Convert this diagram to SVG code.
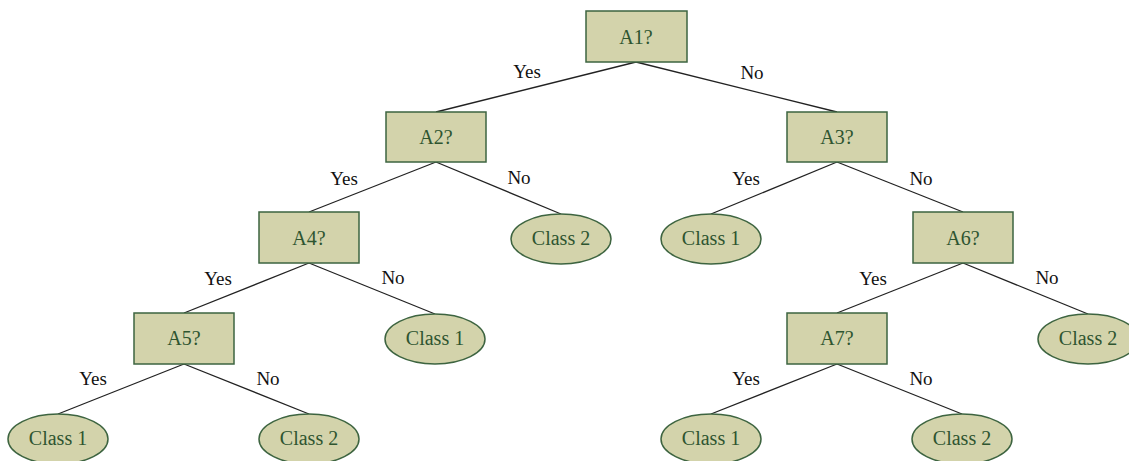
<svg xmlns="http://www.w3.org/2000/svg" width="1129" height="461" viewBox="0 0 1129 461">
  <style>
    .box { fill: #d3d3ab; stroke: #3d6440; stroke-width: 1.5; }
    .leaf { fill: #d3d3ab; stroke: #3d6440; stroke-width: 1.5; }
    .nt { font-family: 'Liberation Serif', 'DejaVu Serif', serif; font-size: 20px; fill: #2e5530; text-anchor: middle; }
    .edge { stroke: #222; stroke-width: 1.3; fill: none; }
    .lbl { font-family: 'Liberation Serif', 'DejaVu Serif', serif; font-size: 19px; fill: #111; text-anchor: middle; }
  </style>
  <rect width="1129" height="461" fill="#fff"/>

  <g id="connectors">
    <line class="edge" x1="636" y1="62" x2="436" y2="112"/>
    <line class="edge" x1="636" y1="62" x2="837" y2="112"/>
    <line class="edge" x1="436" y1="162" x2="309" y2="212"/>
    <line class="edge" x1="436" y1="162" x2="561" y2="214"/>
    <line class="edge" x1="837" y1="162" x2="711" y2="214"/>
    <line class="edge" x1="837" y1="162" x2="963" y2="212"/>
    <line class="edge" x1="309" y1="263" x2="184" y2="313"/>
    <line class="edge" x1="309" y1="263" x2="435" y2="314"/>
    <line class="edge" x1="963" y1="263" x2="837" y2="313"/>
    <line class="edge" x1="963" y1="263" x2="1088" y2="314"/>
    <line class="edge" x1="184" y1="364" x2="58" y2="414"/>
    <line class="edge" x1="184" y1="364" x2="309" y2="414"/>
    <line class="edge" x1="837" y1="364" x2="711" y2="414"/>
    <line class="edge" x1="837" y1="364" x2="962" y2="414"/>
    <text class="lbl" x="527" y="78">Yes</text>
    <text class="lbl" x="752" y="79">No</text>
    <text class="lbl" x="344" y="185">Yes</text>
    <text class="lbl" x="519" y="184">No</text>
    <text class="lbl" x="746" y="185">Yes</text>
    <text class="lbl" x="921" y="185">No</text>
    <text class="lbl" x="218" y="285">Yes</text>
    <text class="lbl" x="393" y="284">No</text>
    <text class="lbl" x="873" y="285">Yes</text>
    <text class="lbl" x="1047" y="284">No</text>
    <text class="lbl" x="93" y="385">Yes</text>
    <text class="lbl" x="268" y="385">No</text>
    <text class="lbl" x="746" y="385">Yes</text>
    <text class="lbl" x="921" y="385">No</text>
  </g>

  <g id="A1"><rect class="box" x="586" y="11" width="101" height="51"/><text class="nt" x="636" y="44">A1?</text></g>
  <g id="A2"><rect class="box" x="386" y="112" width="100" height="50"/><text class="nt" x="436" y="144">A2?</text></g>
  <g id="A3"><rect class="box" x="787" y="112" width="100" height="50"/><text class="nt" x="837" y="144">A3?</text></g>
  <g id="A4"><rect class="box" x="259" y="212" width="100" height="51"/><text class="nt" x="309" y="245">A4?</text></g>
  <g id="A6"><rect class="box" x="913" y="212" width="100" height="51"/><text class="nt" x="963" y="245">A6?</text></g>
  <g id="A5"><rect class="box" x="134" y="313" width="100" height="51"/><text class="nt" x="184" y="345">A5?</text></g>
  <g id="A7"><rect class="box" x="787" y="313" width="100" height="51"/><text class="nt" x="837" y="345">A7?</text></g>

  <g id="leaf-a2-no"><ellipse class="leaf" cx="561" cy="239" rx="50" ry="25"/><text class="nt" x="561" y="245">Class 2</text></g>
  <g id="leaf-a3-yes"><ellipse class="leaf" cx="711" cy="239" rx="50" ry="25"/><text class="nt" x="711" y="245">Class 1</text></g>
  <g id="leaf-a4-no"><ellipse class="leaf" cx="435" cy="339" rx="50" ry="25"/><text class="nt" x="435" y="345">Class 1</text></g>
  <g id="leaf-a6-no"><ellipse class="leaf" cx="1088" cy="339" rx="50" ry="25"/><text class="nt" x="1088" y="345">Class 2</text></g>
  <g id="leaf-a5-yes"><ellipse class="leaf" cx="58" cy="439" rx="50" ry="25"/><text class="nt" x="58" y="445">Class 1</text></g>
  <g id="leaf-a5-no"><ellipse class="leaf" cx="309" cy="439" rx="50" ry="25"/><text class="nt" x="309" y="445">Class 2</text></g>
  <g id="leaf-a7-yes"><ellipse class="leaf" cx="711" cy="439" rx="50" ry="25"/><text class="nt" x="711" y="445">Class 1</text></g>
  <g id="leaf-a7-no"><ellipse class="leaf" cx="962" cy="439" rx="50" ry="25"/><text class="nt" x="962" y="445">Class 2</text></g>
</svg>
